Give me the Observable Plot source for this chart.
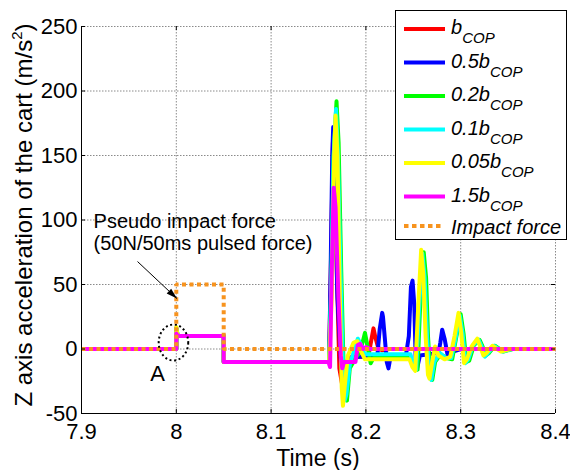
<!DOCTYPE html>
<html><head><meta charset="utf-8">
<script src="https://cdn.jsdelivr.net/npm/d3@7"></script>
<script src="https://cdn.jsdelivr.net/npm/@observablehq/plot@0.6"></script>
<style>
html,body{margin:0;padding:0;background:#fff;}
#wrap{position:relative;width:570px;height:470px;}
</style></head><body><div id="wrap"></div>
<script>
// ---------- data (time s, acceleration m/s^2) ----------
const xTicks = [7.9, 8, 8.1, 8.2, 8.3, 8.4];
const xTickLabels = ["7.9", "8", "8.1", "8.2", "8.3", "8.4"];
const yTicks = [-50, 0, 50, 100, 150, 200, 250];
const yTickLabels = ["-50", "0", "50", "100", "150", "200", "250"];

const legendMain = ["b", "0.5b", "0.2b", "0.1b", "0.05b", "1.5b", "Impact force"];
const legendSub  = ["COP", "COP", "COP", "COP", "COP", "COP", ""];
const colors = ["#ff0000", "#0000ff", "#00ff00", "#00ffff", "#ffff00", "#ff00ff", "#f7931e"];

// b_COP
const red = [[7.9,0],[8.0,0],[8.0,16],[8.001,12],[8.003,10],[8.05,10],[8.05,-10],[8.1612,-10],
  [8.1632,70],[8.1652,160],[8.1668,150],[8.169,70],[8.172,-15],[8.1755,-30],[8.179,-10],[8.185,-6],
  [8.195,-6],[8.203,-4],[8.206,8],[8.208,16],[8.210,9],[8.213,1],[8.217,-1],[8.225,0],[8.4,0]];
// 0.5 b_COP
const blue = [[7.9,0],[8.0,0],[8.0,16],[8.001,12],[8.003,10],[8.05,10],[8.05,-10],[8.1612,-10],
  [8.1628,60],[8.1645,150],[8.1655,172],[8.167,130],[8.170,40],[8.174,-15],[8.1765,-25],[8.1785,-27],
  [8.181,-10],[8.190,-6],[8.212,-6],[8.2145,15],[8.2172,28],[8.218,25],[8.220,8],[8.222,-10],[8.2238,-15],
  [8.226,-6],[8.242,-6],[8.2453,10],[8.2475,48],[8.2492,53],[8.251,35],[8.2525,-8],[8.254,-15],
  [8.257,-5],[8.2766,-3],[8.2785,5],[8.2805,15],[8.283,8],[8.286,-4],[8.292,-2],[8.300,0],[8.4,0]];
// 0.2 b_COP
const green = [[7.9,0],[8.0,0],[8.0,16],[8.001,12],[8.003,10],[8.05,10],[8.05,-10],[8.1612,-10],
  [8.1635,50],[8.166,150],[8.169,192],[8.1712,160],[8.174,60],[8.1765,-15],[8.1785,-38],[8.180,-40],
  [8.183,-15],[8.190,-6],[8.194,-2],[8.1975,8],[8.199,12.5],[8.201,5],[8.205,-11],[8.208,-7],
  [8.246,-6],[8.251,-12],[8.2545,-16],[8.257,30],[8.261,75],[8.2635,55],[8.2655,10],[8.268,-20],
  [8.270,-24],[8.273,-10],[8.279,-4],[8.285,-7],[8.291,-8],[8.2955,10],[8.300,27],[8.303,12],
  [8.306,-10],[8.309,-9],[8.314,3],[8.320,7],[8.323,2],[8.3265,-5],[8.330,-3],[8.336,2.5],
  [8.341,0],[8.345,-2],[8.355,0],[8.4,0]];
// 0.1 b_COP
const cyan = [[7.9,0],[8.0,0],[8.0,16],[8.001,12],[8.003,10],[8.05,10],[8.05,-10],[8.1612,-10],
  [8.1635,50],[8.166,150],[8.1685,186],[8.1705,150],[8.1735,50],[8.176,-20],[8.1775,-40],[8.1795,-35],
  [8.183,-12],[8.188,0],[8.1915,8],[8.195,3],[8.1985,-4],[8.247,-4],[8.250,-12],[8.253,-16],
  [8.256,30],[8.2595,74],[8.262,55],[8.2645,10],[8.267,-20],[8.269,-24],[8.272,-10],[8.278,-3],
  [8.284,-7],[8.290,-7],[8.2945,8],[8.299,26],[8.302,12],[8.305,-11],[8.308,-8],[8.313,3],
  [8.319,7],[8.322,2],[8.3255,-6],[8.329,-3],[8.335,2.5],[8.340,0],[8.344,-2],[8.354,0],[8.4,0]];
// 0.05 b_COP
const yellow = [[7.9,0],[8.0,0],[8.0,17],[8.001,12],[8.003,10],[8.05,10],[8.05,-10],[8.1612,-10],
  [8.164,40],[8.1665,150],[8.168,181],[8.170,150],[8.1725,40],[8.1745,-30],[8.1758,-44],[8.1775,-30],
  [8.181,-5],[8.187,5],[8.191,6],[8.195,-2],[8.199,-8],[8.246,-8],[8.249,-14],[8.252,-17],[8.255,30],
  [8.2583,77],[8.2605,58],[8.263,10],[8.2655,-20],[8.267,-23],[8.270,-10],[8.273,2],[8.2765,-5],
  [8.283,-8],[8.289,-6],[8.2935,10],[8.2977,28],[8.3005,13],[8.3035,-11],[8.3065,-8],[8.3115,2],
  [8.3175,8],[8.3205,2],[8.324,-5],[8.3275,-3],[8.3335,2.5],[8.3385,0],[8.3425,-2],[8.3525,0],[8.4,0]];
// 1.5 b_COP
const magenta = [[7.9,0],[8.0,0],[8.0,12],[8.002,10],[8.05,10],[8.05,-10],[8.1605,-10],[8.1622,-14],
  [8.164,60],[8.166,125],[8.168,110],[8.171,40],[8.1735,-5],[8.175,-15],[8.177,-10],[8.189,-10],
  [8.1915,3],[8.194,4],[8.197,0],[8.200,1.5],[8.205,0],[8.4,0]];
// pseudo impact force (50 N / 50 ms pulse)
const impact = [[7.9,0],[8.0,0],[8.0,50],[8.05,50],[8.05,0],[8.4,0]];

// annotations (data coordinates)
const annoText = ["Pseudo impact force", "(50N/50ms pulsed force)"];
const annoT = [7.9127, 7.9127];
const annoV = [98.8, 81.8];
const arrowFrom = [7.9591, 67.8];
const arrowTo = [8.0007, 39.1];
const circleA = [7.997, 5.0];
const labelA = [7.9802, -19];

// ---------- chart ----------
const W = 570, H = 470, mL = 81, mR = 15, mT = 26, mB = 57;
const xDom = [7.9, 8.4], yDom = [-50, 250];
const tickLenY = (yDom[1] - yDom[0]) * 4 / (H - mT - mB);
const tickLenX = (xDom[1] - xDom[0]) * 4 / (W - mL - mR);
const FONT = "'Liberation Sans', Arial, Helvetica, sans-serif";

const allSeries = [red, blue, green, cyan, yellow, magenta];
const lineMarks = allSeries.map((pts, i) =>
  Plot.line(pts.map(([t, v]) => ({t, v})), {x: "t", y: "v", stroke: colors[i], strokeWidth: 4,
    strokeLinejoin: "round", strokeLinecap: "butt"}));

// custom symbols
const ellipseSym = {draw(ctx, size) {
  const r = Math.sqrt(size / Math.PI), rx = r * 0.82, ry = r, k = 0.5523;
  ctx.moveTo(rx, 0);
  ctx.bezierCurveTo(rx, ry * k, rx * k, ry, 0, ry);
  ctx.bezierCurveTo(-rx * k, ry, -rx, ry * k, -rx, 0);
  ctx.bezierCurveTo(-rx, -ry * k, -rx * k, -ry, 0, -ry);
  ctx.bezierCurveTo(rx * k, -ry, rx, -ry * k, rx, 0);
  ctx.closePath();
}};
const headSym = {draw(ctx, size) {
  const L = Math.sqrt(size / Math.PI), w = L * 0.3;
  const ux = 0.730, uy = 0.684, px = -uy, py = ux;
  ctx.moveTo(0, 0);
  ctx.lineTo(-L * ux + w * px, -L * uy + w * py);
  ctx.lineTo(-L * ux - w * px, -L * uy - w * py);
  ctx.closePath();
}};

const chart = Plot.plot({
  width: W, height: H, marginLeft: mL, marginRight: mR, marginTop: mT, marginBottom: mB,
  x: {domain: xDom}, y: {domain: yDom},
  style: {fontFamily: FONT, background: "white", color: "black"},
  marks: [
    Plot.ruleX(xTicks, {stroke: "#8a8a8a", strokeDasharray: "1.5,1.5", strokeWidth: 1}),
    Plot.ruleY(yTicks, {stroke: "#8a8a8a", strokeDasharray: "1.5,1.5", strokeWidth: 1}),
    ...lineMarks,
    Plot.line(impact.map(([t, v]) => ({t, v})), {x: "t", y: "v", stroke: colors[6], strokeWidth: 4,
      strokeDasharray: "4,3.5", strokeLinecap: "butt", strokeLinejoin: "miter"}),
    Plot.ruleX([xDom[0]], {stroke: "black", strokeWidth: 1}),
    Plot.ruleY([yDom[0]], {stroke: "black", strokeWidth: 1}),
    Plot.ruleX(xTicks, {y1: yDom[0], y2: yDom[0] + tickLenY, stroke: "black"}),
    Plot.ruleX(xTicks, {y1: yDom[1] - tickLenY, y2: yDom[1], stroke: "black"}),
    Plot.ruleY(yTicks, {x1: xDom[0], x2: xDom[0] + tickLenX, stroke: "black"}),
    Plot.ruleY(yTicks, {x1: xDom[1] - tickLenX, x2: xDom[1], stroke: "black"}),
    Plot.axisX(xTicks, {tickSize: 0, tickPadding: 10, fontSize: 22, label: null,
      tickFormat: d => xTickLabels[xTicks.indexOf(d)]}),
    Plot.axisY(yTicks, {tickSize: 0, tickPadding: 4, fontSize: 22, label: null,
      tickFormat: d => yTickLabels[yTicks.indexOf(d)]}),
    Plot.text(annoText, {x: (d, i) => annoT[i], y: (d, i) => annoV[i], text: d => d,
      textAnchor: "start", fontSize: 20, fill: "black"}),
    Plot.link([0], {x1: arrowFrom[0], y1: arrowFrom[1], x2: arrowTo[0], y2: arrowTo[1],
      stroke: "black", strokeWidth: 1}),
    Plot.dot([0], {x: arrowTo[0], y: arrowTo[1], symbol: headSym, r: 11, fill: "black", stroke: "none"}),
    Plot.dot([0], {x: circleA[0], y: circleA[1], symbol: ellipseSym, r: 18, fill: "none",
      stroke: "black", strokeWidth: 2, strokeDasharray: "2,2.6"}),
    Plot.text(["A"], {x: labelA[0], y: labelA[1], text: d => d, fontSize: 22, fill: "black"})
  ]
});

const svg = d3.select(chart);
// axis titles
svg.append("text").attr("x", (mL + W - mR) / 2).attr("y", 466)
  .attr("text-anchor", "middle").attr("font-size", 23).attr("font-family", FONT)
  .attr("fill", "black").text("Time (s)");
const yl = svg.append("text").attr("transform", "translate(32,215) rotate(-90)")
  .attr("text-anchor", "middle").attr("font-size", 24).attr("font-family", FONT).attr("fill", "black");
yl.append("tspan").text("Z axis acceleration of the cart (m/s");
yl.append("tspan").attr("dy", -10).attr("font-size", 15).text("2");
yl.append("tspan").attr("dy", 10).text(")");

// legend
const lg = svg.append("g").attr("font-family", FONT).attr("text-anchor", "start");
lg.append("rect").attr("x", 395.5).attr("y", 10.5).attr("width", 171).attr("height", 229)
  .attr("fill", "white").attr("stroke", "black").attr("stroke-width", 1);
const rowY = [29, 62.5, 96, 129.5, 163, 196.5, 226];
legendMain.forEach((lab, i) => {
  const y = rowY[i];
  const ln = lg.append("line").attr("x1", 404).attr("x2", 445).attr("y1", y).attr("y2", y)
    .attr("stroke", colors[i]).attr("stroke-width", 4);
  if (i === 6) ln.attr("stroke-dasharray", "4.5,3.5").attr("x2", 443);
  const t = lg.append("text").attr("x", 451).attr("y", i === 6 ? y + 8 : y + 5)
    .attr("text-anchor", "start")
    .attr("font-size", 20).attr("font-style", "italic").attr("fill", "black");
  t.append("tspan").text(lab);
  if (legendSub[i]) t.append("tspan").attr("dy", 9).attr("font-size", 15).text(legendSub[i]);
});

document.getElementById("wrap").appendChild(chart);
</script></body></html>
